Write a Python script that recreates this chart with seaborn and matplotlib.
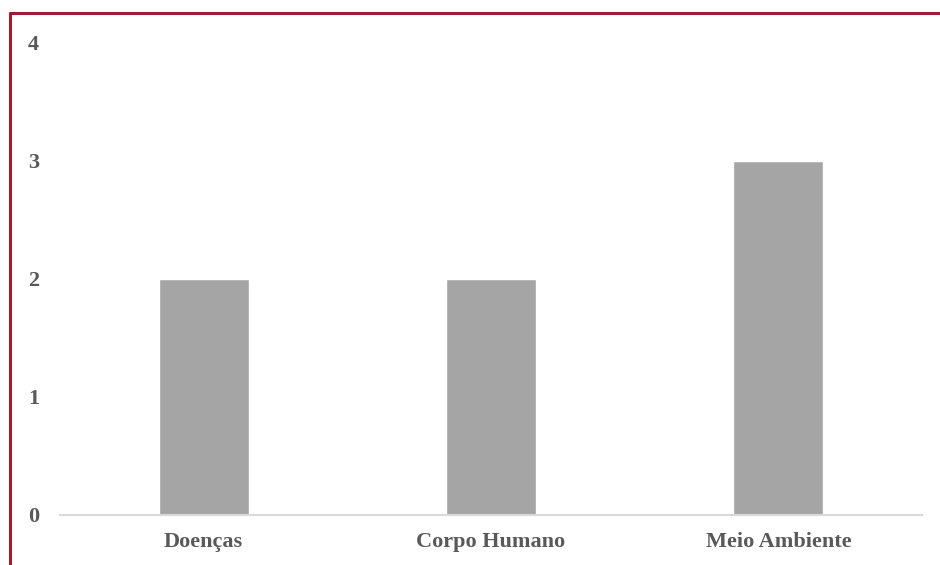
import matplotlib
matplotlib.use("Agg")
import matplotlib.pyplot as plt
from matplotlib.lines import Line2D
import pandas as pd
import seaborn as sns

# dados
categorias = ['Doenças', 'Corpo Humano', 'Meio Ambiente']
valores = [2, 2, 3]
y_ticks = [0, 1, 2, 3, 4]

df = pd.DataFrame({'categoria': categorias, 'valor': valores})

sns.set_style('white')
plt.rcParams['font.family'] = ['Liberation Serif', 'DejaVu Serif']

W, H = 940, 565
fig = plt.figure(figsize=(W / 100, H / 100), dpi=100)
ax = fig.add_axes([60 / W, (H - 515) / H, (922 - 60) / W, (515 - 43) / H])

sns.barplot(data=df, x='categoria', y='valor', color='#a5a5a5', width=0.313,
            saturation=1, ax=ax)

ax.set_ylim(0, 4)
ax.set_xlim(-0.5, 2.5)
ax.set_yticks(y_ticks)
ax.set_xlabel('')
ax.set_ylabel('')
for s in ['top', 'right', 'left']:
    ax.spines[s].set_visible(False)
ax.spines['bottom'].set_color('#d9d9d9')
ax.spines['bottom'].set_linewidth(1.5)
ax.tick_params(axis='both', length=0, labelcolor='#595959')
ax.tick_params(axis='y', pad=15)
ax.tick_params(axis='x', pad=12)
for lab in ax.get_xticklabels() + ax.get_yticklabels():
    lab.set_fontweight('bold')
    lab.set_fontsize(16)

# moldura vermelha (topo e esquerda)
cor_borda = '#a01c34'
fig.add_artist(Line2D([10 / W, 1], [1 - 13 / H, 1 - 13 / H], color=cor_borda,
                      linewidth=2.2, transform=fig.transFigure))
fig.add_artist(Line2D([10 / W, 10 / W], [0, 1 - 13 / H], color=cor_borda,
                      linewidth=2.2, transform=fig.transFigure))

fig.savefig('out.png', dpi=100)
